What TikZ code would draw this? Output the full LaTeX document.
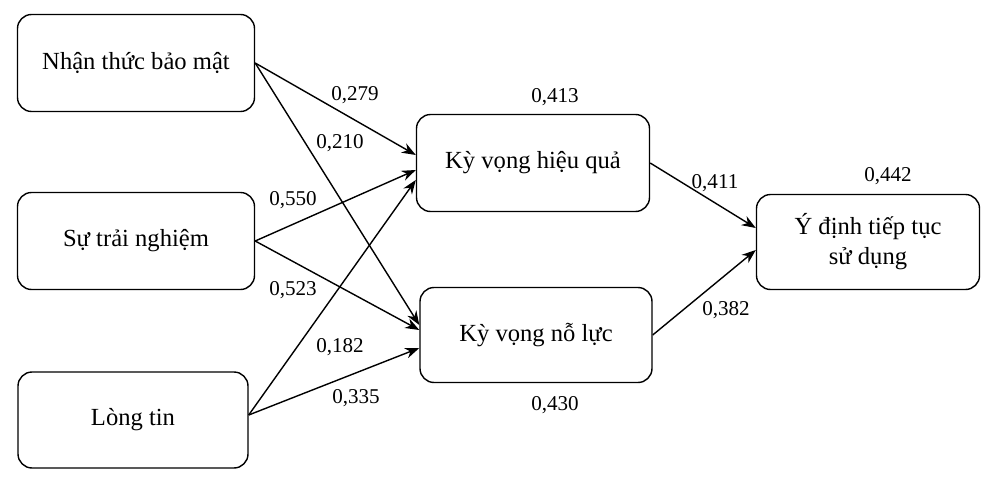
\documentclass[tikz,border=0pt]{standalone}
\usepackage{fontspec}
\setmainfont{Liberation Serif}
\usetikzlibrary{arrows.meta}
\begin{document}
\begin{tikzpicture}[x=0.02cm,y=-0.02cm,
    box/.style={draw,thick,rounded corners=8pt,align=center,font=\fontsize{14}{17}\selectfont},
    lbl/.style={font=\fontsize{12}{14}\selectfont},
    link/.style={-{Stealth[length=8pt]},thick}]

            %\draw [help lines] (0,0) grid (1000,483);
            \useasboundingbox (0,0) rectangle (1000,483);

            \path   (136,63)  node (a) [box,minimum width=237*0.02cm,minimum height=97*0.02cm] {Nhận thức bảo mật}
                    (136,241) node (b) [box,minimum width=237*0.02cm,minimum height=97*0.02cm] {Sự trải nghiệm}
                    (133,420) node (c) [box,minimum width=230*0.02cm,minimum height=96*0.02cm] {Lòng tin}
                    (533,163) node (d) [box,minimum width=233*0.02cm,minimum height=97*0.02cm] {Kỳ vọng hiệu quả}
                    (536,335) node (e) [box,minimum width=232*0.02cm,minimum height=95*0.02cm] {Kỳ vọng nỗ lực}
                    (868,242) node (f) [box,minimum width=223*0.02cm,minimum height=95*0.02cm] {Ý định tiếp tục\\sử dụng};

            \draw [link] (a.east) -- ([yshift=0.16cm]d.west);
            \draw [link] (a.east) -- ([yshift=0.2cm]e.west);
            \draw [link] (b.east) -- ([yshift=-0.14cm]d.west);
            \draw [link] (b.east) -- ([yshift=0.1cm]e.west);
            \draw [link] ([yshift=0.1cm]c.east) -- ([yshift=-0.34cm]d.west);
            \draw [link] ([yshift=0.1cm]c.east) -- ([yshift=-0.26cm]e.west);
            \draw [link] (d.east) -- ([yshift=0.28cm]f.west);
            \draw [link] (e.east) -- ([yshift=-0.16cm]f.west);

            \path   (355,95)  node (l1) [lbl] {0,279}
                    (340,143) node (l2) [lbl] {0,210}
                    (293,200) node (l3) [lbl] {0,550}
                    (293,290) node (l4) [lbl] {0,523}
                    (340,347) node (l5) [lbl] {0,182}
                    (356,398) node (l6) [lbl] {0,335}
                    (555,97)  node (l7) [lbl] {0,413}
                    (555,405) node (l8) [lbl] {0,430}
                    (715,183) node (l9) [lbl] {0,411}
                    (726,310) node (l10) [lbl] {0,382}
                    (888,176) node (l11) [lbl] {0,442};

\end{tikzpicture}
\end{document}
